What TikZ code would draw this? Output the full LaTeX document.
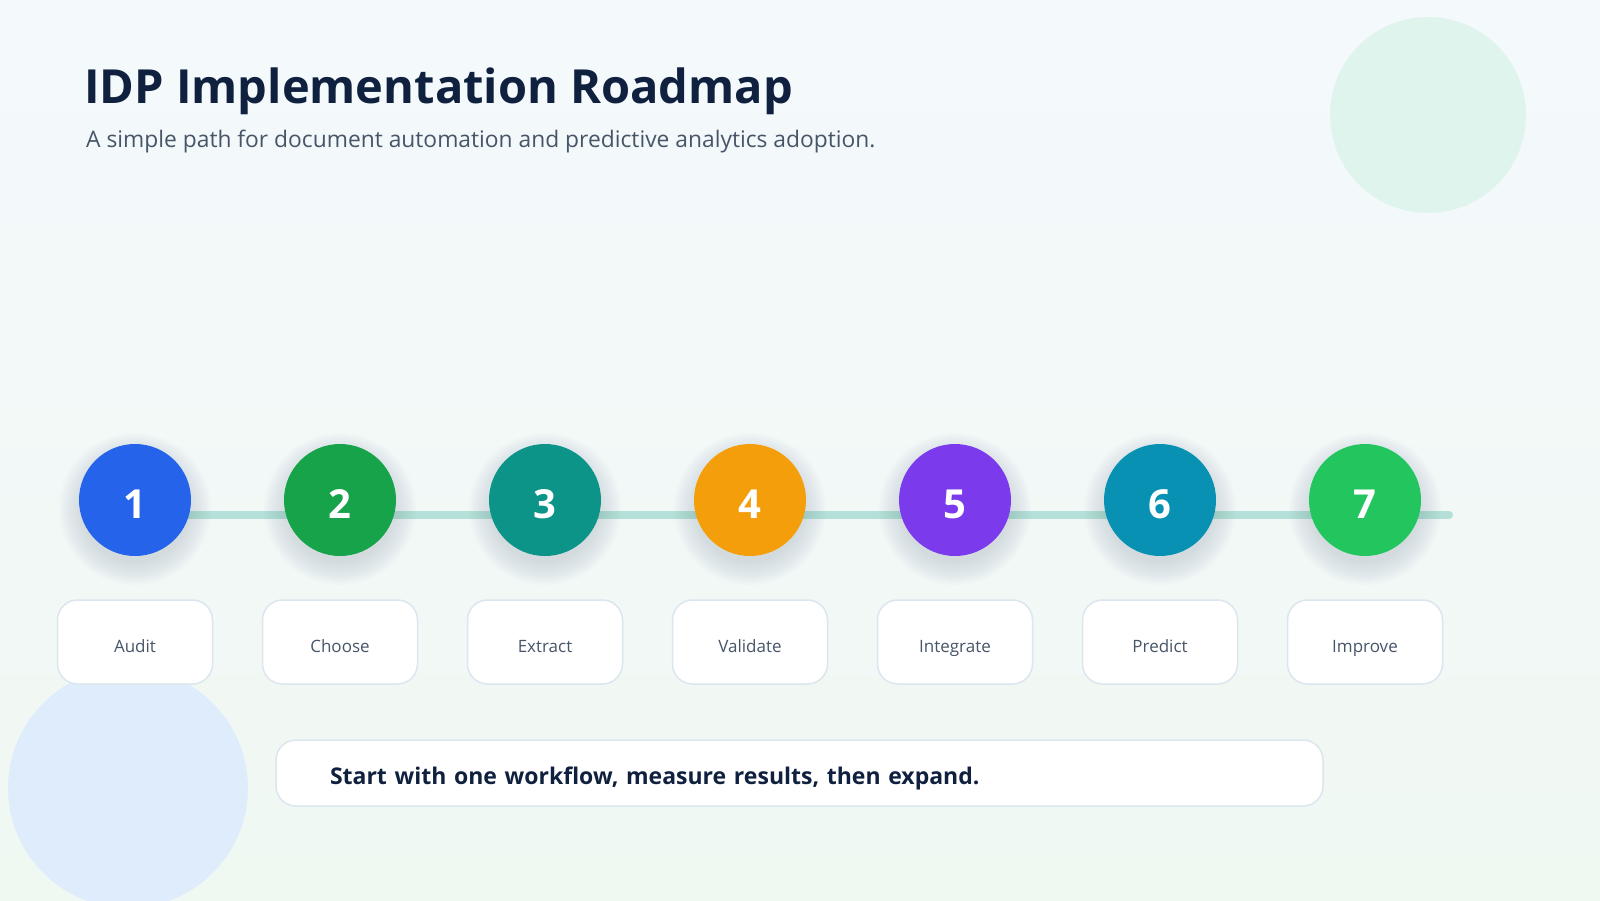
\documentclass[tikz,border=0pt]{standalone}
\usepackage{fontspec}
\setmainfont{Open Sans}
\usetikzlibrary{calc}
\definecolor{bgA}{HTML}{F4F9FC}
\definecolor{bgB}{HTML}{F0F8F2}
\definecolor{mint}{HTML}{E0F4EE}
\definecolor{softblue}{HTML}{DFECFB}
\definecolor{navy}{HTML}{10213F}
\definecolor{slate}{HTML}{475569}
\definecolor{shadowc}{HTML}{334155}
\definecolor{boxline}{HTML}{DBE6EE}
\definecolor{track}{HTML}{B5E0DA}
\definecolor{cA}{HTML}{2563EB}
\definecolor{cB}{HTML}{16A34A}
\definecolor{cC}{HTML}{0D9488}
\definecolor{cD}{HTML}{F59E0B}
\definecolor{cE}{HTML}{7C3AED}
\definecolor{cF}{HTML}{0891B2}
\definecolor{cG}{HTML}{22C55E}
\begin{document}
\begin{tikzpicture}[x=1pt,y=-1pt,
  stepcircle/.style={circle, minimum size=112pt, inner sep=0pt, text=white,
    text height=36pt, text depth=0pt,
    font=\bfseries\fontsize{40}{48}\selectfont},
  shadowlayer/.style={fill=shadowc, fill opacity=0.012},
  labelbox/.style={draw=boxline, line width=1.5pt, fill=white, rounded corners=20pt,
    minimum width=155pt, minimum height=84pt, inner sep=0pt, text=slate,
    text height=21pt, text depth=0pt,
    font=\fontsize{17}{20}\selectfont},
  footbox/.style={draw=boxline, line width=1.5pt, fill=white, rounded corners=20pt,
    minimum width=1047pt, minimum height=66pt, inner xsep=54pt, inner ysep=0pt,
    text height=22pt, text depth=0pt,
    text width=939pt, align=left, text=navy, font=\bfseries\fontsize{23}{27}\selectfont},
  trackline/.style={draw=track, line width=8pt, line cap=round}]
\useasboundingbox (0,0) rectangle (1600,900);
\shade[top color=bgA, bottom color=bgB] (0,0) rectangle (1600,900);
% decorative circles
\fill[mint] (1428,115) circle[radius=98pt];
\fill[softblue] (128,788) circle[radius=120pt];
% title
\node[anchor=base west, inner sep=0pt, text=navy, font=\bfseries\fontsize{47}{56}\selectfont] (title) at (84,103) {IDP Implementation Roadmap};
\node[anchor=base west, inner sep=0pt, text=slate, font=\fontsize{22.8}{27}\selectfont] (subtitle) at (86,147) {A simple path for document automation and predictive analytics adoption.};
% track
\coordinate (tstart) at (135,515);
\coordinate (tend) at (1449,515);
\draw[trackline] (tstart) -- (tend);
% shadows
\foreach \k in {0,...,6}{
  \foreach \j in {0,...,11}{
    \fill[shadowlayer] (135+205*\k,509) circle[radius={54pt+2pt*\j}];
  }
}
% steps
\foreach \i/\c/\lab [count=\k from 0] in {1/cA/Audit,2/cB/Choose,3/cC/Extract,4/cD/Validate,5/cE/Integrate,6/cF/Predict,7/cG/Improve}{
  \node[stepcircle, fill=\c] (s\i) at (135+205*\k,500) {\i};
  \node[labelbox] (l\i) at (135+205*\k,642) {\lab};
}
% footer
\node[footbox] (foot) at (799.5,773) {Start with one workflow, measure results, then expand.};
\end{tikzpicture}
\end{document}
